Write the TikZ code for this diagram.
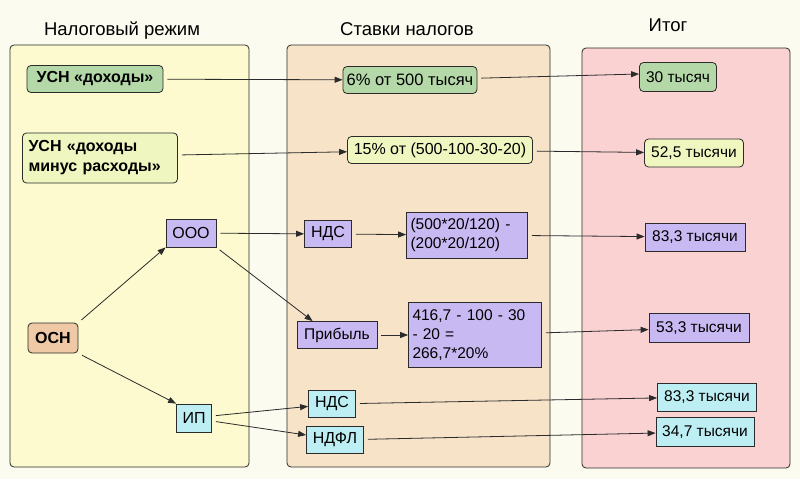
\documentclass[tikz,border=0pt]{standalone}
\usepackage{fontspec}
\setmainfont{Liberation Sans}
\usepackage{tikz}
\usetikzlibrary{arrows, arrows.meta}
\usetikzlibrary{positioning}

\definecolor{bgpage}{HTML}{FCFBEF}
\definecolor{panelL}{HTML}{FCFACE}
\definecolor{panelM}{HTML}{F7E4C8}
\definecolor{panelR}{HTML}{FBD2D2}
\definecolor{boxgreen}{HTML}{B5D8A8}
\definecolor{boxyellow}{HTML}{F0F6BF}
\definecolor{boxviolet}{HTML}{C9B9F3}
\definecolor{boxcyan}{HTML}{BDEEF3}
\definecolor{boxpeach}{HTML}{EFC8A5}
\definecolor{edge}{HTML}{2B2B2B}

\begin{document}
\begin{tikzpicture}[x=1pt,y=-1pt,
  every node/.style={inner sep=0pt,font=\fontsize{15.5}{19}\selectfont},
  panel/.style={draw=edge,line width=0.8pt,rounded corners=4pt},
  bx/.style={draw=edge,line width=0.8pt,minimum height=27pt},
  rbx/.style={bx,rounded corners=4pt},
  bold/.style={font=\fontsize{16}{20}\selectfont\bfseries},
  arr/.style={draw=edge,line width=0.8pt,-{Triangle[length=8pt,width=6pt]},shorten <=4pt},
  title/.style={font=\fontsize{18.5}{20}\selectfont}]
\fill [bgpage] (0,0) rectangle (800,479);
\useasboundingbox (0,0) rectangle (800,479);
% columns
\draw [panel,fill=panelL] (10,45) rectangle (249,467);
\draw [panel,fill=panelM] (287,45) rectangle (550,467);
\draw [panel,fill=panelR] (582,48) rectangle (790,468);
\node [title] (tregime) at (122,31) {Налоговый режим};
\node [title] (trates) at (407,29) {Ставки налогов};
\node [title] (ttotal) at (668,25) {Итог};
% tax regimes
\node [rbx,bold,fill=boxgreen,minimum width=136pt] (usn) at (95,79) {УСН «доходы»};
\node [rbx,bold,fill=boxyellow,minimum width=155pt,minimum height=50pt,text width=143pt,align=left] (usndr) at (100,158) {УСН «доходы\\минус расходы»};
\node [rbx,bold,fill=boxpeach,minimum width=50pt,minimum height=30pt] (osn) at (53,338) {ОСН};
\node [bx,fill=boxviolet,minimum width=50pt,minimum height=28pt,font=\fontsize{16}{19}\selectfont] (ooo) at (191,233) {ООО};
\node [bx,fill=boxcyan,minimum width=35pt,minimum height=28pt,font=\fontsize{16}{19}\selectfont] (ip) at (194,418) {ИП};
% rates
\node [rbx,fill=boxgreen,minimum width=134pt,font=\fontsize{16.5}{19}\selectfont] (six) at (410,80) {6\% от 500 тысяч};
\node [rbx,fill=boxyellow,minimum width=185pt,font=\fontsize{16}{19}\selectfont] (fifteen) at (440,150) {15\% от (500-100-30-20)};
\node [bx,fill=boxviolet,minimum width=47pt,font=\fontsize{16}{19}\selectfont] (ndsa) at (328,234) {НДС};
\node [bx,fill=boxviolet,minimum width=121pt,minimum height=46pt,text width=113pt,align=left] (vat) at (467,235) {(500*20/120) -\\(200*20/120)};
\node [bx,fill=boxviolet,minimum width=80pt] (profit) at (337,335) {Прибыль};
\node [bx,fill=boxviolet,minimum width=133pt,minimum height=65pt,text width=125pt,align=left] (calc) at (475,335) {416,7 - 100 - 30\\- 20 =\\266,7*20\%};
\node [bx,fill=boxcyan,minimum width=47pt,font=\fontsize{16}{19}\selectfont] (ndsb) at (332,404) {НДС};
\node [bx,fill=boxcyan,minimum width=57pt,font=\fontsize{16}{19}\selectfont] (ndfl) at (335,440) {НДФЛ};
% totals
\node [rbx,fill=boxgreen,minimum width=77pt,minimum height=29pt] (ra) at (678,77) {30 тысяч};
\node [rbx,fill=boxyellow,minimum width=99pt,minimum height=28pt] (rb) at (694,153) {52,5 тысячи};
\node [bx,fill=boxviolet,minimum width=100pt,minimum height=28pt] (rc) at (695,237) {83,3 тысячи};
\node [bx,fill=boxviolet,minimum width=100pt,minimum height=29pt] (rd) at (699,328) {53,3 тысячи};
\node [bx,fill=boxcyan,minimum width=99pt,minimum height=28pt] (re) at (707,397) {83,3 тысячи};
\node [bx,fill=boxcyan,minimum width=98pt,minimum height=29pt] (rf) at (705,432) {34,7 тысячи};
% connectors
\draw [arr] (usn) -- (six);
\draw [arr] ([yshift=3pt]usndr.east) -- (fifteen);
\draw [arr] (six) -- ([yshift=3pt]ra.west);
\draw [arr] (fifteen) -- (rb);
\draw [arr] (osn.north east) -- (ooo.south west);
\draw [arr] (osn.south east) -- (ip.north west);
\draw [arr] (ooo) -- (ndsa);
\draw [arr] (ooo.south east) -- ([xshift=16pt]profit.north west);
\draw [arr] (ndsa) -- (vat);
\draw [arr] (profit) -- (calc);
\draw [arr] (vat) -- (rc);
\draw [arr] (calc) -- (rd);
\draw [arr] ([yshift=2pt]ip.east) -- (ndsb);
\draw [arr] ([yshift=-3pt]ip.east) -- ([yshift=5pt]ndfl.west);
\draw [arr] (ndsb) -- (re);
\draw [arr] (ndfl) -- (rf);
\end{tikzpicture}
\end{document}
